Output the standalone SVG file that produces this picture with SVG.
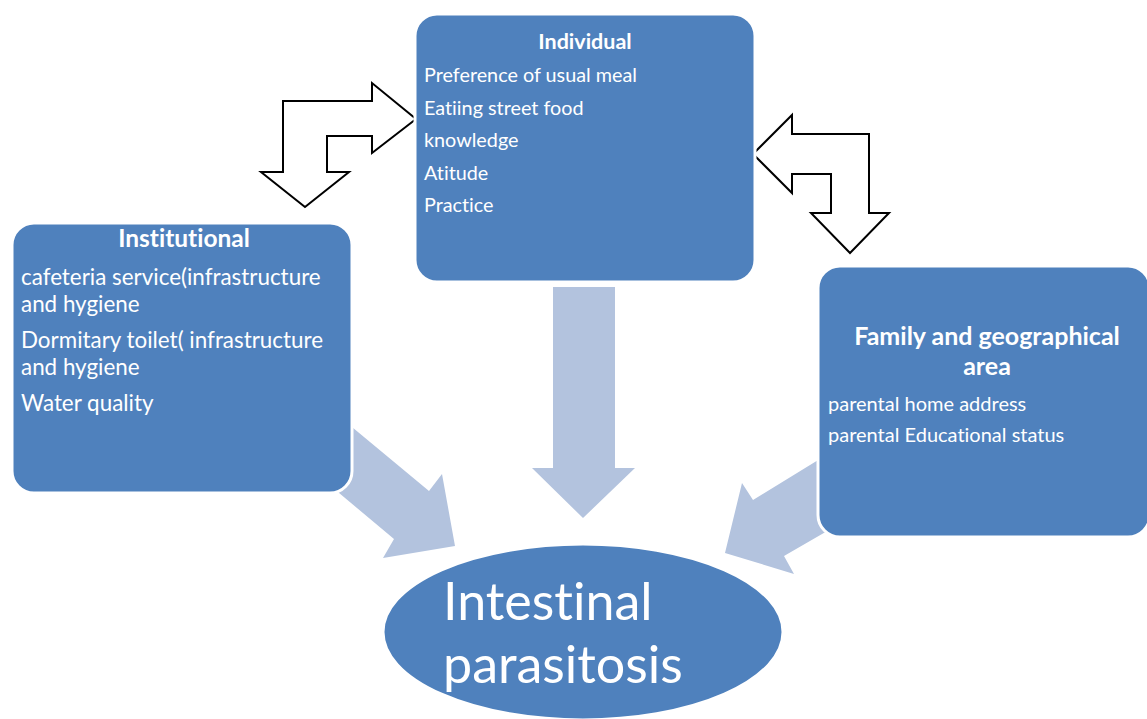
<svg xmlns="http://www.w3.org/2000/svg" width="1147" height="719" viewBox="0 0 1147 719">
<style>
.box{fill:#4f81bd;stroke:#ffffff;stroke-width:3}
.big{fill:#b3c3de}
.bent{fill:#ffffff;stroke:#000000;stroke-width:2;stroke-linejoin:miter}
.t{font-family:Lato,"Open Sans",sans-serif;fill:#ffffff;font-variant-ligatures:none;font-feature-settings:"liga" 0,"clig" 0}
.b{font-weight:bold}
</style>
<rect width="1147" height="719" fill="#ffffff"/>
<g id="connectors">
<polygon class="big" points="553,287 615,287 615,468 635,468 583,518 532,468 553,468"/>
<polygon class="big" points="317,398 283,446 394,539 383,558 455,546 442,474 429,491"/>
<polygon class="big" points="893,493 854,438 753,500 742,483 725,553 794,574 784,556"/>
<polygon class="bent" points="283,101 372,101 372,83 416,119 372,153 372,136 327,136 327,172 349,172 305,207 261,172 283,172"/>
<polygon class="bent" points="753,154 792,115 792,134 869,134 869,213 889,213 850,253 811,213 831,213 831,174 792,174 792,193"/>
</g>
<g id="individual">
<rect class="box" x="415" y="14" width="340" height="268" rx="22"/>
<text class="t b" x="585" y="49" font-size="21.5" text-anchor="middle">Individual</text>
<text class="t" x="424" y="82" font-size="19.8">Preference of usual meal</text>
<text class="t" x="424" y="115" font-size="19.8">Eatiing street food</text>
<text class="t" x="424" y="147" font-size="19.8">knowledge</text>
<text class="t" x="424" y="180" font-size="19.8">Atitude</text>
<text class="t" x="424" y="212" font-size="19.8">Practice</text>
</g>
<g id="institutional">
<rect class="box" x="12" y="223" width="340" height="270" rx="22"/>
<text class="t b" x="184" y="247" font-size="24.5" text-anchor="middle">Institutional</text>
<text class="t" x="21" y="285" font-size="22.4">cafeteria service(infrastructure</text>
<text class="t" x="21" y="312" font-size="22.4">and hygiene</text>
<text class="t" x="21" y="348" font-size="22.4">Dormitary toilet( infrastructure</text>
<text class="t" x="21" y="375" font-size="22.4">and hygiene</text>
<text class="t" x="21" y="411" font-size="22.4">Water quality</text>
</g>
<g id="family">
<rect class="box" x="818" y="266" width="332" height="271" rx="22"/>
<text class="t b" x="987" y="345" font-size="25" text-anchor="middle">Family and geographical</text>
<text class="t b" x="987" y="375" font-size="25" text-anchor="middle">area</text>
<text class="t" x="828" y="411" font-size="20">parental home address</text>
<text class="t" x="828" y="442" font-size="20">parental Educational status</text>
</g>
<g id="parasitosis">
<ellipse class="box" cx="583" cy="632" rx="200" ry="88"/>
<text class="t" x="443" y="620" font-size="52">Intestinal</text>
<text class="t" x="443" y="683" font-size="52">parasitosis</text>
</g>
</svg>
